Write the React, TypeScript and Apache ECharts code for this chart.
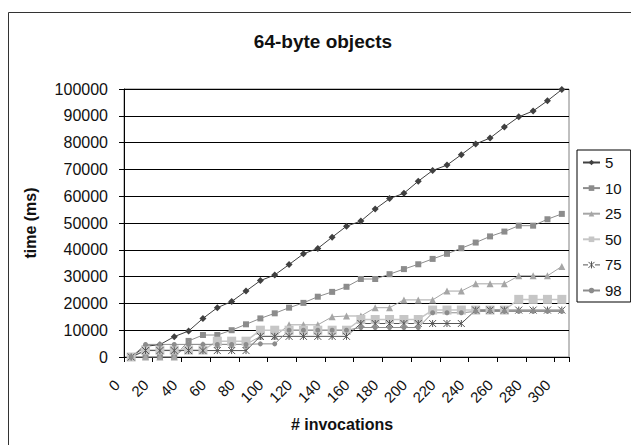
import React, { useEffect, useRef } from "react";
import * as echarts from "echarts";

const categories: string[] = [
  "0", "10", "20", "30", "40", "50", "60", "70", "80", "90", "100",
  "110", "120", "130", "140", "150", "160", "170", "180", "190", "200",
  "210", "220", "230", "240", "250", "260", "270", "280", "290", "300",
];

const s5: number[] = [0, 4000, 4600, 7600, 9700, 14400, 18400, 20700, 24600, 28500, 30600, 34500, 38500, 40500, 44700, 48800, 50700, 55200, 59100, 61100, 65600, 69600, 71600, 75500, 79500, 81700, 85800, 89600, 91800, 95600, 99800];
const s10: number[] = [0, 0, 0, 0, 6000, 8200, 8200, 10000, 12200, 14400, 16300, 18400, 20200, 22500, 24300, 26200, 29100, 29100, 30900, 32800, 34600, 36600, 38500, 40600, 42700, 45000, 46800, 49000, 49000, 51400, 53400];
const s25: number[] = [0, 0, 0, 0, 4700, 4700, 4700, 4700, 4700, 7700, 7700, 12000, 12000, 12000, 15000, 15300, 15300, 18400, 18400, 21300, 21300, 21300, 24600, 24600, 27300, 27300, 27300, 30300, 30300, 30300, 33800];
const s50: number[] = [0, 2600, 2600, 2600, 2600, 2600, 5900, 5900, 5900, 10000, 10000, 10000, 10000, 10000, 10000, 10000, 14000, 14000, 14000, 14000, 14000, 17500, 17500, 17500, 17500, 17500, 17500, 21500, 21500, 21500, 21500];
const s75: number[] = [0, 2400, 2400, 2400, 2400, 2400, 2400, 2400, 2400, 7700, 7700, 7700, 7700, 7700, 7700, 7700, 12500, 12500, 12500, 12500, 12500, 12500, 12500, 12500, 17500, 17500, 17500, 17500, 17500, 17500, 17500];
const s98: number[] = [0, 4700, 4700, 4700, 4700, 4700, 4700, 4700, 4700, 4900, 4900, 10000, 10000, 10000, 10000, 10000, 11000, 11000, 11000, 11000, 11000, 16500, 16500, 16500, 17000, 17000, 17000, 17000, 17000, 17000, 17000];

const seriesNames: string[] = ["5", "10", "25", "50", "75", "98"];
const seriesData: number[][] = [s5, s10, s25, s50, s75, s98];
const seriesColors: string[] = ["#404040", "#8c8c8c", "#a6a6a6", "#c6c6c6", "#555555", "#8c8c8c"];
const STAR = "path://M0,0L10,10M10,0L0,10M5,0L5,10";
const seriesSymbols: string[] = ["diamond", "rect", "triangle", "rect", STAR, "circle"];
const seriesSymbolSizes: number[] = [7, 6, 7, 9, 7, 5];

const FONT = "'Liberation Sans', Arial, sans-serif";

export default function App() {
  const ref = useRef<HTMLDivElement>(null);
  useEffect(() => {
    if (!ref.current) return;
    const chart = echarts.init(ref.current, undefined, { renderer: "svg" });
    const series = seriesNames.map((name, k) => ({
      name,
      type: "line",
      data: seriesData[k],
      symbol: seriesSymbols[k],
      symbolSize: seriesSymbolSizes[k],
      showAllSymbol: true,
      lineStyle: { color: seriesColors[k], width: k === 3 ? 1.5 : 1 },
      itemStyle:
        k === 4
          ? { color: seriesColors[k], borderColor: seriesColors[k], borderWidth: 1 }
          : { color: seriesColors[k], borderWidth: 0 },
      emphasis: { disabled: true },
    }));
    const legendData = seriesNames.map((name, k) =>
      k === 4
        ? {
            name,
            icon: "path://M0,4L5,4M12,4L17,4M5.5,1L11.5,7M11.5,1L5.5,7M8.5,0.5L8.5,7.5",
            itemStyle: { color: seriesColors[k], borderColor: seriesColors[k], borderWidth: 1 },
          }
        : { name }
    );
    chart.setOption({
      animation: false,
      backgroundColor: "#ffffff",
      textStyle: { fontFamily: FONT },
      title: {
        text: "64-byte objects",
        left: 318,
        top: 27,
        textAlign: "center",
        textStyle: { fontFamily: FONT, fontSize: 19, fontWeight: "bold", color: "#111" },
      },
      graphic: [
        {
          type: "rect",
          shape: { x: 8.5, y: 12.5, width: 700, height: 500 },
          style: { fill: "none", stroke: "#333", lineWidth: 1 },
          silent: true,
        },
      ],
      legend: {
        orient: "vertical",
        left: 577,
        top: 150,
        data: legendData,
        itemWidth: 17,
        itemHeight: 7,
        itemGap: 10.6,
        padding: [5, 9, 4, 5],
        borderColor: "#000",
        borderWidth: 1,
        textStyle: { fontFamily: FONT, fontSize: 15, lineHeight: 14, color: "#111" },
      },
      grid: { left: 124, right: 62, top: 89, bottom: 88, show: true, borderColor: "#808080", borderWidth: 1 },
      xAxis: {
        type: "category",
        data: categories,
        boundaryGap: true,
        name: "# invocations",
        nameLocation: "middle",
        nameGap: 59,
        nameTextStyle: { fontFamily: FONT, fontSize: 16, fontWeight: "bold", color: "#111", padding: [0, 9, 0, 0] },
        axisLine: { lineStyle: { color: "#000", width: 1 } },
        axisTick: { show: true, interval: 1, length: 5, lineStyle: { color: "#000" } },
        axisLabel: {
          interval: 1,
          rotate: 45,
          margin: 11,
          formatter: (v: string) => v + "{s| }",
          rich: { s: { width: 20, fontSize: 15 } },
          fontFamily: FONT,
          fontSize: 15,
          color: "#111",
        },
        splitLine: { show: false },
      },
      yAxis: {
        type: "value",
        min: 0,
        max: 100000,
        interval: 10000,
        name: "time (ms)",
        nameLocation: "middle",
        nameGap: 86,
        nameRotate: 90,
        nameTextStyle: { fontFamily: FONT, fontSize: 16, fontWeight: "bold", color: "#111" },
        axisLine: { show: true, lineStyle: { color: "#000", width: 1 } },
        axisTick: { show: true, length: 5, lineStyle: { color: "#000" } },
        axisLabel: { margin: 16, fontFamily: FONT, fontSize: 16, color: "#111", formatter: (v: number) => String(v) },
        splitLine: { show: true, lineStyle: { color: "#000", width: 1 } },
      },
      series,
    });
    return () => chart.dispose();
  }, []);
  return (
    <div
      ref={ref}
      style={{ position: "fixed", left: 0, top: 0, width: 631, height: 445, background: "#fff" }}
    />
  );
}
